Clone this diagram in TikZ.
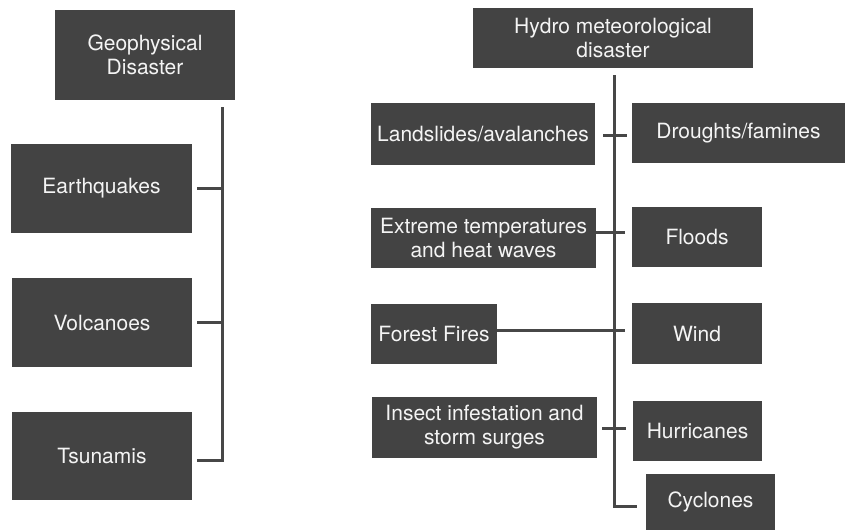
\documentclass[tikz,border=0pt]{standalone}
\usepackage{fontspec}
\setmainfont{TeX Gyre Heros}
\usetikzlibrary{calc}
\definecolor{boxfill}{HTML}{434343}
\definecolor{linecol}{HTML}{474747}
\definecolor{txt}{HTML}{F4F4F4}
\begin{document}
\begin{tikzpicture}[x=1pt,y=-1pt,
  box/.style={rectangle, fill=boxfill, text=txt, inner sep=0pt, align=center,
    font=\fontsize{21}{24}\selectfont},
  conn/.style={draw=linecol, line width=3pt}]
\useasboundingbox[fill=white] (0,0) rectangle (845,530);
% left column
\node[box, minimum width=180pt, minimum height=90pt] (geo) at (145,55) {Geophysical\\Disaster};
\node[box, minimum width=181pt, minimum height=89pt] (eq) at (101.5,188.5) {Earthquakes};
\node[box, minimum width=180pt, minimum height=89pt] (vol) at (102,322.5) {Volcanoes};
\node[box, minimum width=180pt, minimum height=88pt] (tsu) at (102,456) {Tsunamis};
% right column
\node[box, minimum width=280pt, minimum height=60pt] (hyd) at (613,38) {Hydro meteorological\\disaster};
\node[box, minimum width=224pt, minimum height=62pt] (land) at (483,134) {Landslides/avalanches};
\node[box, minimum width=213pt, minimum height=60pt] (dro) at (738.5,133) {Droughts/famines};
\node[box, minimum width=225pt, minimum height=60pt] (ext) at (483.5,238) {Extreme temperatures\\and heat waves};
\node[box, minimum width=130pt, minimum height=60pt] (flo) at (697,237) {Floods};
\node[box, minimum width=126pt, minimum height=60pt] (for) at (434,334) {Forest Fires};
\node[box, minimum width=130pt, minimum height=61pt] (win) at (697,333.5) {Wind};
\node[box, minimum width=225pt, minimum height=61pt] (ins) at (484.5,427.5) {Insect infestation and\\storm surges};
\node[box, minimum width=129pt, minimum height=60pt] (hur) at (697.5,431) {Hurricanes};
\node[box, minimum width=129pt, minimum height=56pt] (cyc) at (710.5,502) {Cyclones};
% left connectors
\coordinate (ltop) at (222,107);
\coordinate (lbot) at (222,460);
\draw[conn] (ltop) -- (lbot) -- ($(tsu.east |- lbot)+(5,0)$);
\draw[conn] ($(eq.east)+(5,0)$) -- (eq.east -| ltop);
\draw[conn] ($(vol.east)+(5,0)$) -- (vol.east -| ltop);
% right connectors
\coordinate (rtop) at (614,75);
\coordinate (rbot) at (614,506);
\draw[conn] (rtop) -- (rbot) -- ($(cyc.west |- rbot)+(-9,0)$);
\draw[conn] ($(land.east)+(8,1)$) -- ($(land.east -| rtop)+(13,1)$);
\draw[conn] ($(ext.east)+(0,-6)$) -- ($(ext.east -| rtop)+(11,-6)$);
\draw[conn] ($(for.east)+(0,-4)$) -- ($(for.east -| rtop)+(11,-4)$);
\draw[conn] ($(ins.east)+(5,0.5)$) -- ($(ins.east -| rtop)+(12,0.5)$);
\end{tikzpicture}
\end{document}
